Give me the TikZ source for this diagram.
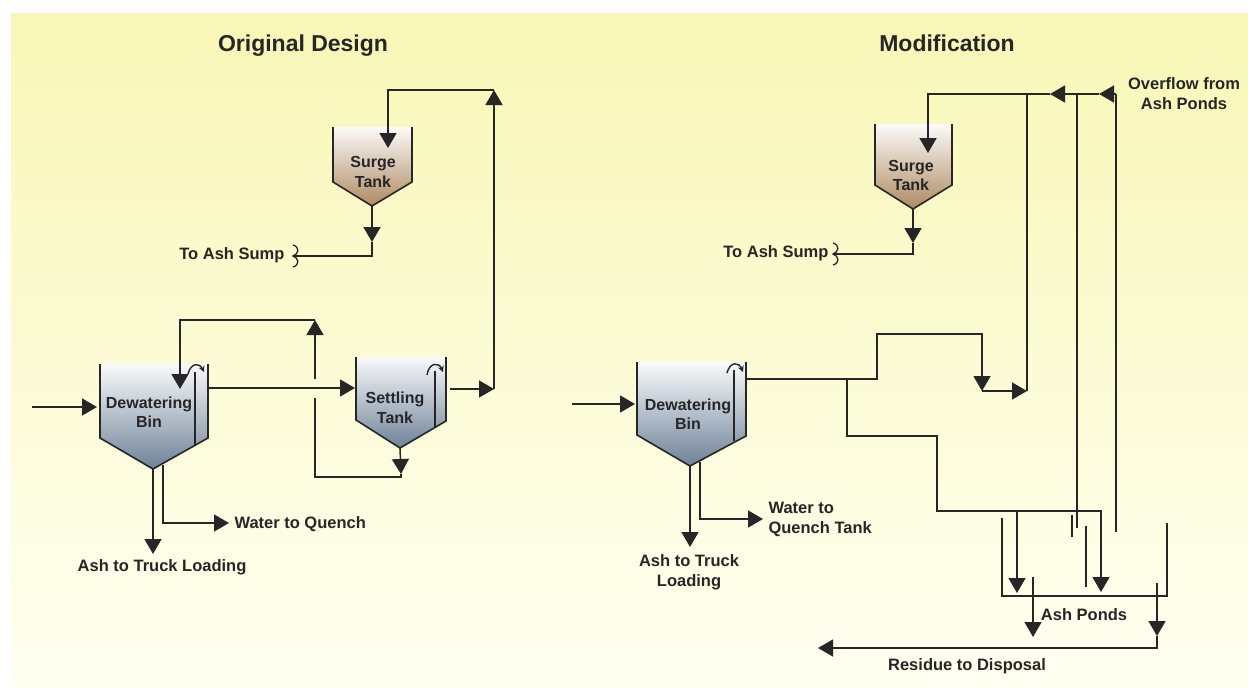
\documentclass[tikz,border=0pt]{standalone}
\usepackage{fontspec}
\setmainfont{Liberation Sans}
\usetikzlibrary{arrows.meta, positioning, calc}
\definecolor{linegray}{HTML}{262626}
\definecolor{panelTop}{HTML}{F8F7B6}
\definecolor{panelBot}{HTML}{FFFFF2}
\definecolor{binBlue}{HTML}{6E8299}
\definecolor{surgeBrown}{HTML}{AE8A62}
\tikzset{
    flowline/.style={line width=1.5pt, draw=linegray, line join=miter},
    flowtip/.style={flowline, -{Triangle[length=15pt,width=17pt]}},
    curltip/.style={line width=1.4pt, draw=linegray, -{Stealth[length=6pt,width=6pt]}},
    wall/.style={line width=1.6pt, draw=linegray, line join=miter},
    squiggle/.style={line width=1.3pt, draw=linegray},
    bluebody/.style={top color=white!96!binBlue, bottom color=binBlue, draw=none},
    brownbody/.style={top color=white!96!surgeBrown, bottom color=surgeBrown, draw=none},
    tanklabel/.style={text=linegray, align=center, font=\fontsize{16}{19.5}\selectfont\bfseries},
    flowlabel/.style={text=linegray, align=center, font=\fontsize{16.5}{20}\selectfont\bfseries},
    headlabel/.style={text=linegray, anchor=base, font=\fontsize{23}{26}\selectfont\bfseries}
}
\begin{document}
\begin{tikzpicture}[x=1pt, y=-1pt]
    \useasboundingbox (0,0) rectangle (1248,688);
    \fill[white] (0,0) rectangle (1248,688);
    \shade[top color=panelTop, bottom color=panelBot] (11,13) rectangle (1248,688);

    \node[headlabel] (origtitle) at (303,51) {Original Design};
    \node[headlabel] (modtitle) at (947,51) {Modification};

    % original design, tanks
    \coordinate (bina) at (100,364);  \coordinate (binb) at (100,438);
    \coordinate (binc) at (153,469);  \coordinate (bind) at (208,438);
    \coordinate (bine) at (208,364);
    \fill[bluebody] (bina) -- (binb) -- (binc) -- (bind) -- (bine) -- cycle;
    \draw[wall] (bina) -- (binb) -- (binc) -- (bind) -- (bine);
    \draw[wall] (195,372) -- (195,445);
    \draw[curltip] (188,374) .. controls (191,362) and (200,363) .. (204,372);
    \node[tanklabel] (bin) at (149,412) {Dewatering\\Bin};

    \coordinate (setta) at (356,357);  \coordinate (settb) at (356,420);
    \coordinate (settc) at (400,448);  \coordinate (settd) at (446,421);
    \coordinate (sette) at (446,357);
    \fill[bluebody] (setta) -- (settb) -- (settc) -- (settd) -- (sette) -- cycle;
    \draw[wall] (setta) -- (settb) -- (settc) -- (settd) -- (sette);
    \draw[wall] (435,371) -- (435,427);
    \draw[curltip] (427,375) .. controls (429,362) and (439,362) .. (443,372);
    \node[tanklabel] (sett) at (395,408) {Settling\\Tank};

    \coordinate (surgea) at (333,127);  \coordinate (surgeb) at (333,182);
    \coordinate (surgec) at (372,206);  \coordinate (surged) at (412,182);
    \coordinate (surgee) at (412,127);
    \fill[brownbody] (surgea) -- (surgeb) -- (surgec) -- (surged) -- (surgee) -- cycle;
    \draw[wall] (surgea) -- (surgeb) -- (surgec) -- (surged) -- (surgee);
    \node[tanklabel] (surge) at (373,172) {Surge\\Tank};

    % original design, flows
    \coordinate (feedin) at (32,407);   \coordinate (feedtip) at (97,407);
    \draw[flowtip] (feedin) -- (feedtip);
    \coordinate (ashtip) at (153,554);
    \draw[flowtip] (binc) -- (ashtip);
    \node[flowlabel] (ashtruck) at (162,567) {Ash to Truck Loading};
    \coordinate (watstart) at (163,465);  \coordinate (watbend) at (163,523);
    \coordinate (wattip) at (229,523);
    \draw[flowtip] (watstart) -- (watbend) -- (wattip);
    \node[flowlabel, anchor=west] (wattoq) at (231,524) {Water to Quench};
    \coordinate (binout) at (208,388);  \coordinate (setttip) at (355,388);
    \draw[flowtip] (binout) -- (setttip);
    \coordinate (settdrop) at (401,474);  \coordinate (settlow) at (401,477);
    \coordinate (reclow) at (315,477);    \coordinate (recgapa) at (315,398);
    \coordinate (recgapb) at (315,379);   \coordinate (rectop) at (315,320);
    \coordinate (recleft) at (180,320);   \coordinate (rectip) at (180,389);
    \draw[flowtip] (settc) -- (settdrop);
    \draw[flowline] (settdrop) -- (settlow) -- (reclow) -- (recgapa);
    \draw[flowtip] (recgapb) -- (rectop);
    \draw[flowtip] (rectop) -- (recleft) -- (rectip);
    \coordinate (settout) at (450,389);   \coordinate (overbend) at (494,389);
    \coordinate (overtip) at (494,90);    \coordinate (overleft) at (388,90);
    \coordinate (surgetip) at (388,148);
    \draw[flowtip] (settout) -- (overbend);
    \draw[flowtip] (overbend) -- (overtip);
    \draw[flowtip] (overtip) -- (overleft) -- (surgetip);
    \coordinate (sumpdrop) at (372,242);  \coordinate (sumpbend) at (372,256);
    \coordinate (sumpend) at (293,256);
    \draw[flowtip] (surgec) -- (sumpdrop);
    \draw[flowline] (sumpdrop) -- (sumpbend) -- (sumpend);
    \draw[squiggle] (293,245) .. controls (300,247) and (299,254) .. (sumpend)
        .. controls (299,258) and (300,265) .. (293,267);
    \node[flowlabel, anchor=east] (sumplabel) at (288,255) {To Ash Sump};

    % modification, tanks
    \coordinate (mbina) at (637,362);  \coordinate (mbinb) at (637,435);
    \coordinate (mbinc) at (690,466);  \coordinate (mbind) at (746,436);
    \coordinate (mbine) at (746,362);
    \fill[bluebody] (mbina) -- (mbinb) -- (mbinc) -- (mbind) -- (mbine) -- cycle;
    \draw[wall] (mbina) -- (mbinb) -- (mbinc) -- (mbind) -- (mbine);
    \draw[wall] (734,370) -- (734,441);
    \draw[curltip] (727,373) .. controls (730,361) and (739,362) .. (743,372);
    \node[tanklabel] (mbin) at (688,414) {Dewatering\\Bin};

    \coordinate (msurgea) at (875,124);  \coordinate (msurgeb) at (875,185);
    \coordinate (msurgec) at (913,209);  \coordinate (msurged) at (952,185);
    \coordinate (msurgee) at (952,124);
    \fill[brownbody] (msurgea) -- (msurgeb) -- (msurgec) -- (msurged) -- (msurgee) -- cycle;
    \draw[wall] (msurgea) -- (msurgeb) -- (msurgec) -- (msurged) -- (msurgee);
    \node[tanklabel] (msurge) at (911,175.5) {Surge\\Tank};

    % modification, flows
    \coordinate (mfeedin) at (572,404);   \coordinate (mfeedtip) at (635,404);
    \draw[flowtip] (mfeedin) -- (mfeedtip);
    \coordinate (mashtip) at (690,547);
    \draw[flowtip] (mbinc) -- (mashtip);
    \node[flowlabel] (mashtruck) at (689,572) {Ash to Truck\\Loading};
    \coordinate (mwatstart) at (700,462);  \coordinate (mwatbend) at (700,519);
    \coordinate (mwattip) at (763,519);
    \draw[flowtip] (mwatstart) -- (mwatbend) -- (mwattip);
    \node[flowlabel, align=left, anchor=west] (mwattoq) at (765,519) {Water to\\Quench Tank};
    \coordinate (msumpdrop) at (913,243);  \coordinate (msumpbend) at (913,254);
    \coordinate (msumpend) at (833,254);
    \draw[flowtip] (msurgec) -- (msumpdrop);
    \draw[flowline] (msumpdrop) -- (msumpbend) -- (msumpend);
    \draw[squiggle] (833,243) .. controls (840,245) and (839,252) .. (msumpend)
        .. controls (839,256) and (840,263) .. (833,265);
    \node[flowlabel, anchor=east] (msumplabel) at (832,253) {To Ash Sump};

    \coordinate (retstart) at (1116,532);  \coordinate (retbend) at (1116,94);
    \coordinate (rettipa) at (1099,94);    \coordinate (rettipb) at (1050,94);
    \coordinate (retleft) at (928,94);     \coordinate (msurgetip) at (928,153);
    \draw[flowline] (retstart) -- (retbend);
    \draw[flowtip] (retbend) -- (rettipa);
    \draw[flowtip] (rettipa) -- (rettipb);
    \draw[flowtip] (rettipb) -- (retleft) -- (msurgetip);
    \node[flowlabel] (overflow) at (1184,94) {Overflow from\\Ash Ponds};
    \coordinate (pondret) at (1077,528);  \coordinate (pondtop) at (1077,94);
    \draw[flowline] (pondret) -- (pondtop);
    \coordinate (mainjoin) at (1027,94);  \coordinate (mainlow) at (1027,391);
    \coordinate (branchdrop) at (982,391);
    \draw[flowline] (mainlow) -- (mainjoin);
    \coordinate (mbinout) at (746,379);   \coordinate (upbend) at (877,379);
    \coordinate (uptop) at (877,334);     \coordinate (upright) at (982,334);
    \draw[flowtip] (mbinout) -- (upbend) -- (uptop) -- (upright) -- (branchdrop);
    \draw[flowtip] (branchdrop) -- (mainlow);
    \coordinate (splitb) at (847,379);    \coordinate (stepa) at (847,436);
    \coordinate (stepb) at (937,436);     \coordinate (stepc) at (937,511);
    \coordinate (pondtap) at (1017,511);  \coordinate (pondright) at (1101,511);
    \coordinate (taptipa) at (1017,593);  \coordinate (taptipb) at (1101,592);
    \draw[flowline] (splitb) -- (stepa) -- (stepb) -- (stepc) -- (pondtap);
    \draw[flowtip] (pondtap) -- (taptipa);
    \draw[flowtip] (pondtap) -- (pondright) -- (taptipb);

    % ash ponds
    \coordinate (ponda) at (1002,518);  \coordinate (pondb) at (1002,596);
    \coordinate (pondc) at (1167,596);  \coordinate (pondd) at (1167,523);
    \draw[wall] (ponda) -- (pondb) -- (pondc) -- (pondd);
    \coordinate (weira) at (1086,526);  \coordinate (weirb) at (1086,587);
    \draw[flowline] (weira) -- (weirb);
    \coordinate (shorta) at (1072,515); \coordinate (shortb) at (1072,537);
    \draw[flowline] (shorta) -- (shortb);
    \node[flowlabel] (ponds) at (1084,615) {Ash Ponds};
    \coordinate (outa) at (1033,577);   \coordinate (outatip) at (1033,637);
    \draw[flowtip] (outa) -- (outatip);
    \coordinate (outb) at (1157,583);   \coordinate (outbtip) at (1157,636);
    \coordinate (outbend) at (1157,648);\coordinate (disptip) at (818,648);
    \draw[flowtip] (outb) -- (outbtip);
    \draw[flowtip] (outbtip) -- (outbend) -- (disptip);
    \node[flowlabel] (residue) at (967,666) {Residue to Disposal};
\end{tikzpicture}
\end{document}
